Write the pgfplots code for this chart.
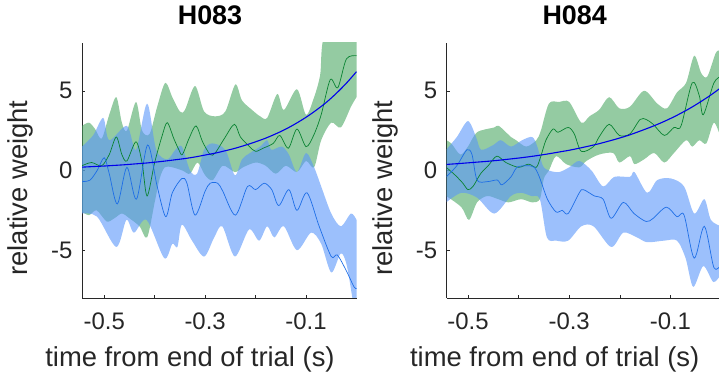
\documentclass[border=0pt]{standalone}
\usepackage{fontspec}
\setmainfont{Liberation Sans}
\usepackage{pgfplots}
\pgfplotsset{compat=1.18}
\usepgfplotslibrary{fillbetween}
\definecolor{gband}{RGB}{70,165,95}
\definecolor{bband}{RGB}{90,150,250}
\definecolor{gline}{RGB}{10,130,50}
\definecolor{bline}{RGB}{30,110,230}
\definecolor{expc}{RGB}{0,0,235}
\definecolor{axc}{RGB}{40,40,40}
\pgfplotsset{
  myax/.style={
    scale only axis, height=255bp,
    ymin=-8, ymax=8,
    axis lines=left, axis line style={-, axc, line width=0.7bp},
    tick align=inside, major tick length=3bp,
    tick style={axc, line width=0.6bp},
    xtick={-0.5,-0.4,-0.3,-0.2,-0.1}, xticklabels={-0.5,,-0.3,,-0.1},
    ytick={-5,0,5}, yticklabels={-5,0,5},
    ticklabel style={font=\fontsize{24}{24}\selectfont, text=black!85},
    xticklabel style={yshift=-11bp},
    yticklabel style={xshift=-6bp},
    xlabel={time from end of trial (s)},
    ylabel={relative weight},
    label style={font=\fontsize{27.5}{28}\selectfont, text=black!85},
    xlabel style={at={(axis description cs:0,0)}, xshift=108bp, yshift=-61.5bp, anchor=center},
    title style={font=\fontsize{27}{27}\selectfont\bfseries, at={(axis description cs:0,1)}, xshift=128bp, yshift=13bp, anchor=base},
    clip=true,
  },
  gb/.style={draw=none, fill=gband, fill opacity=0.58},
  bb/.style={draw=none, fill=bband, fill opacity=0.6},
  gl/.style={gline, line width=0.7bp, smooth},
  bl/.style={bline, line width=0.7bp, smooth},
  el/.style={expc, line width=1.1bp, smooth},
  edge/.style={draw=none, smooth},
}
\begin{document}
\begin{tikzpicture}[x=1bp,y=1bp]
\begin{axis}[myax, width=274.5bp, xmin=-0.544, xmax=0, title={H083}, at={(82bp,80bp)}, anchor=south west,
  ylabel style={at={(axis description cs:-0.224,0.431)}, anchor=center}]
% green band
\addplot[edge, name path=gu1] table {
x y
-0.544 2.8
-0.530 3.0
-0.518 2.6
-0.505 2.0
-0.490 3.5
-0.476 4.6
-0.465 3.0
-0.455 2.5
-0.437 4.3
-0.425 2.5
-0.410 2.3
-0.395 4.0
-0.379 5.5
-0.365 4.6
-0.350 3.7
-0.340 3.8
-0.320 5.3
-0.302 3.7
-0.280 3.4
-0.260 3.7
-0.240 5.4
-0.227 4.4
-0.207 3.8
-0.191 3.4
-0.177 3.3
-0.157 4.8
-0.144 3.8
-0.118 5.1
-0.100 3.5
-0.084 4.6
-0.072 6.0
-0.062 8.5
0.000 9.0
};
\addplot[edge, name path=gl1] table {
x y
-0.544 -2.6
-0.530 -2.8
-0.515 -2.5
-0.495 -3.2
-0.480 -3.0
-0.465 -2.7
-0.450 -3.0
-0.430 -3.5
-0.415 -4.2
-0.400 -2.0
-0.390 -0.5
-0.380 0.2
-0.365 0.2
-0.345 0.0
-0.330 -0.2
-0.315 0.5
-0.300 -0.3
-0.285 -0.6
-0.265 0.3
-0.241 -0.1
-0.225 0.2
-0.200 0.5
-0.180 0.3
-0.160 -0.2
-0.140 0.3
-0.118 -0.1
-0.100 0.6
-0.084 0.2
-0.070 1.9
-0.050 3.0
-0.031 2.7
-0.011 4.0
0.000 4.6
};
\addplot[gb] fill between[of=gu1 and gl1];
\addplot[gl] table {
x y
-0.544 0.3
-0.525 0.5
-0.505 0.3
-0.490 1.0
-0.476 2.1
-0.465 1.0
-0.455 0.6
-0.437 1.8
-0.425 0.5
-0.415 -1.6
-0.400 0.5
-0.385 2.2
-0.375 3.0
-0.362 2.0
-0.352 1.3
-0.345 1.0
-0.332 2.0
-0.318 2.8
-0.305 1.8
-0.290 1.0
-0.280 1.1
-0.262 2.0
-0.242 2.9
-0.230 2.1
-0.212 1.5
-0.200 1.2
-0.185 1.4
-0.165 1.7
-0.152 2.2
-0.135 1.4
-0.118 2.6
-0.100 1.5
-0.085 2.2
-0.070 3.5
-0.052 5.7
-0.037 5.2
-0.020 7.0
0.000 7.2
};
% blue band
\addplot[edge, name path=bu1] table {
x y
-0.544 1.5
-0.522 2.2
-0.502 3.3
-0.490 1.9
-0.455 2.8
-0.437 1.3
-0.415 4.2
-0.397 1.3
-0.375 0.7
-0.359 1.3
-0.346 1.5
-0.330 0.0
-0.316 -0.2
-0.302 1.3
-0.286 1.7
-0.260 1.3
-0.241 -0.3
-0.227 0.7
-0.211 1.1
-0.191 1.5
-0.177 1.9
-0.169 1.3
-0.148 1.5
-0.134 1.0
-0.118 -0.1
-0.100 1.1
-0.084 0.2
-0.070 -1.0
-0.050 -2.7
-0.031 -3.5
-0.011 -2.7
0.000 -3.1
};
\addplot[edge, name path=bl1] table {
x y
-0.544 -2.7
-0.514 -2.9
-0.476 -4.8
-0.456 -3.1
-0.441 -3.9
-0.416 -3.1
-0.381 -5.5
-0.365 -4.6
-0.355 -4.8
-0.346 -3.4
-0.326 -4.4
-0.302 -5.4
-0.282 -4.2
-0.266 -3.5
-0.241 -5.4
-0.213 -3.7
-0.193 -4.4
-0.177 -3.5
-0.163 -4.2
-0.144 -3.5
-0.118 -5.0
-0.090 -3.9
-0.070 -4.6
-0.050 -6.4
-0.031 -5.2
-0.019 -6.0
-0.005 -8.6
0.000 -9.0
};
\addplot[bb] fill between[of=bu1 and bl1];
\addplot[bl] table {
x y
-0.544 -0.7
-0.528 -0.6
-0.514 0.0
-0.500 0.8
-0.490 -0.2
-0.474 -2.1
-0.455 0.2
-0.436 -1.8
-0.414 1.6
-0.395 -1.0
-0.378 -2.9
-0.365 -1.4
-0.346 -0.5
-0.336 -0.8
-0.320 -2.8
-0.300 -1.3
-0.290 -0.8
-0.275 -0.8
-0.265 -1.3
-0.240 -2.8
-0.216 -1.0
-0.200 -1.2
-0.183 -0.8
-0.168 -1.2
-0.154 -2.2
-0.134 -1.2
-0.118 -2.5
-0.098 -1.4
-0.074 -3.5
-0.050 -5.4
-0.038 -5.3
-0.020 -6.3
-0.005 -7.3
0.000 -7.4
};
\addplot[el] table {
x y
-0.544 0.21
-0.52 0.25
-0.50 0.28
-0.48 0.32
-0.46 0.36
-0.44 0.41
-0.42 0.46
-0.40 0.52
-0.38 0.59
-0.36 0.67
-0.34 0.75
-0.32 0.85
-0.30 0.97
-0.28 1.09
-0.26 1.24
-0.24 1.40
-0.22 1.59
-0.20 1.80
-0.18 2.03
-0.16 2.30
-0.14 2.60
-0.12 2.95
-0.10 3.34
-0.08 3.78
-0.06 4.27
-0.04 4.84
-0.02 5.48
0.00 6.20
};
\end{axis}

\begin{axis}[myax, width=272.3bp, xmin=-0.542, xmax=-0.004, title={H084}, at={(446.7bp,80bp)}, anchor=south west,
  ylabel style={at={(axis description cs:-0.226,0.431)}, anchor=center}]
\addplot[edge, name path=gu2] table {
x y
-0.543 1.9
-0.533 1.7
-0.515 1.0
-0.500 1.5
-0.482 2.4
-0.448 2.7
-0.439 2.8
-0.415 2.1
-0.405 1.9
-0.385 1.5
-0.365 1.9
-0.356 2.5
-0.340 4.2
-0.320 4.3
-0.300 4.3
-0.276 3.0
-0.260 3.4
-0.241 3.8
-0.221 4.6
-0.201 3.9
-0.180 4.0
-0.152 5.0
-0.126 4.2
-0.107 3.9
-0.087 4.9
-0.069 5.5
-0.053 7.2
-0.039 6.1
-0.027 5.9
-0.010 7.4
0.000 7.5
};
\addplot[edge, name path=gl2] table {
x y
-0.543 -1.6
-0.513 -2.3
-0.498 -3.1
-0.482 -2.0
-0.462 -1.6
-0.440 -1.8
-0.420 -2.0
-0.395 -1.8
-0.373 -2.0
-0.358 -1.8
-0.350 -0.5
-0.340 0.0
-0.326 0.9
-0.306 0.4
-0.280 0.2
-0.266 0.6
-0.241 1.0
-0.213 1.1
-0.201 0.5
-0.180 0.9
-0.171 0.4
-0.152 0.7
-0.132 1.1
-0.112 0.5
-0.093 1.1
-0.069 1.9
-0.057 1.5
-0.043 1.9
-0.029 1.7
-0.014 3.0
0.000 2.0
};
\addplot[gb] fill between[of=gu2 and gl2];
\addplot[gl] table {
x y
-0.543 0.2
-0.525 -0.3
-0.510 -0.8
-0.500 -1.2
-0.490 -1.0
-0.475 -0.2
-0.460 0.3
-0.443 0.9
-0.425 0.5
-0.400 0.2
-0.380 0.4
-0.365 0.2
-0.356 0.9
-0.346 1.9
-0.332 2.6
-0.322 2.4
-0.302 2.7
-0.290 2.3
-0.276 1.2
-0.252 1.5
-0.241 2.1
-0.221 2.9
-0.201 2.2
-0.180 2.3
-0.160 3.2
-0.148 3.2
-0.134 2.9
-0.112 2.2
-0.093 2.7
-0.079 2.8
-0.057 5.5
-0.043 4.7
-0.035 3.5
-0.014 5.5
0.000 5.9
};
\addplot[edge, name path=bu2] table {
x y
-0.543 1.3
-0.522 2.1
-0.500 3.1
-0.484 2.1
-0.474 1.3
-0.450 1.6
-0.435 1.9
-0.415 1.5
-0.393 1.9
-0.373 2.1
-0.363 1.5
-0.352 0.3
-0.340 0.0
-0.320 -0.1
-0.300 0.2
-0.280 0.6
-0.256 0.0
-0.233 -1.0
-0.211 -0.4
-0.180 -0.4
-0.171 -0.1
-0.146 -1.4
-0.126 -0.6
-0.099 -0.5
-0.073 -1.0
-0.053 -2.7
-0.033 -1.8
-0.020 -3.1
0.000 -3.5
};
\addplot[edge, name path=bl2] table {
x y
-0.543 -2.0
-0.513 -1.4
-0.482 -1.7
-0.448 -2.7
-0.415 -1.6
-0.395 -1.4
-0.375 -1.6
-0.358 -1.8
-0.344 -4.2
-0.326 -4.4
-0.302 -4.4
-0.276 -3.5
-0.252 -3.5
-0.217 -4.8
-0.193 -3.9
-0.166 -4.2
-0.146 -4.5
-0.112 -4.4
-0.087 -4.4
-0.070 -5.5
-0.055 -7.3
-0.035 -6.0
-0.015 -7.0
0.000 -6.5
};
\addplot[bb] fill between[of=bu2 and bl2];
\addplot[bl] table {
x y
-0.543 -0.4
-0.522 0.3
-0.502 1.3
-0.492 1.0
-0.482 -0.6
-0.462 -0.7
-0.442 -0.6
-0.433 -0.9
-0.415 -0.4
-0.403 0.2
-0.383 0.3
-0.369 0.2
-0.359 -0.4
-0.343 -1.8
-0.326 -2.6
-0.314 -2.5
-0.302 -2.7
-0.280 -1.4
-0.272 -1.2
-0.250 -1.6
-0.233 -1.8
-0.217 -3.0
-0.193 -2.0
-0.172 -2.7
-0.148 -3.2
-0.134 -3.0
-0.108 -2.3
-0.087 -2.9
-0.073 -2.8
-0.053 -5.5
-0.033 -3.5
-0.014 -6.1
0.000 -5.9
};
\addplot[el] table {
x y
-0.543 0.38
-0.52 0.43
-0.50 0.48
-0.48 0.53
-0.46 0.58
-0.44 0.64
-0.42 0.71
-0.40 0.78
-0.38 0.86
-0.36 0.95
-0.34 1.05
-0.32 1.16
-0.30 1.27
-0.28 1.40
-0.26 1.54
-0.24 1.69
-0.22 1.86
-0.20 2.04
-0.18 2.24
-0.16 2.47
-0.14 2.71
-0.12 2.97
-0.10 3.26
-0.08 3.58
-0.06 3.93
-0.04 4.32
-0.02 4.74
0.00 5.20
};
\end{axis}
\pgfresetboundingbox
\useasboundingbox (0,0) rectangle (719bp,378bp);
\end{tikzpicture}
\end{document}
